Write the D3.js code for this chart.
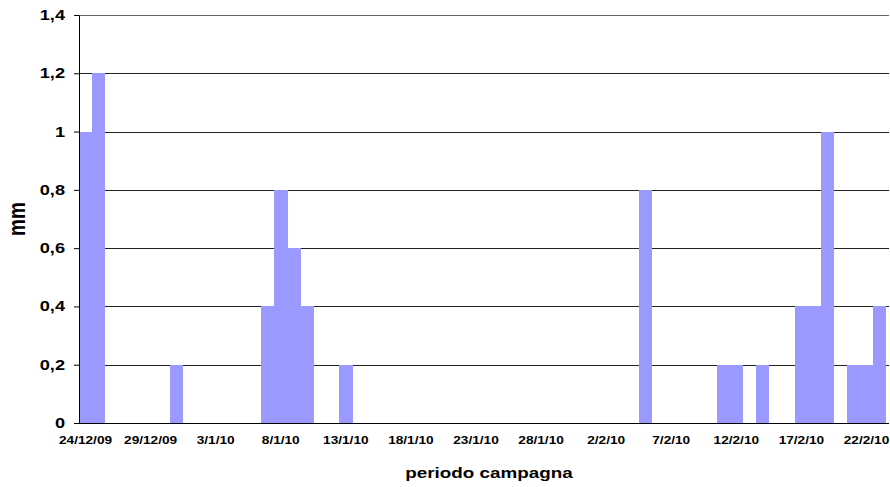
<!DOCTYPE html>
<html>
<head>
<meta charset="utf-8">
<script src="https://cdn.jsdelivr.net/npm/d3@7"></script>
<style>
  body { margin: 0; background: #fff; }
  #chart { width: 890px; height: 487px; }
  text { font-family: "Liberation Sans", Arial, sans-serif; font-weight: bold; fill: #000; }
</style>
</head>
<body>
<div id="chart"></div>
<script>
// daily rainfall (mm), 24/12/09 .. 23/2/10
const rain = [
    1.0, 1.2, 0, 0, 0, 0, 0, 0.2, 0, 0,
    0, 0, 0, 0, 0.4, 0.8, 0.6, 0.4, 0, 0,
    0.2, 0, 0, 0, 0, 0, 0, 0, 0, 0,
    0, 0, 0, 0, 0, 0, 0, 0, 0, 0,
    0, 0, 0, 0.8, 0, 0, 0, 0, 0, 0.2,
    0.2, 0, 0.2, 0, 0, 0.4, 0.4, 1.0, 0, 0.2,
    0.2, 0.4
];
const days = d3.timeDay.range(new Date(2009, 11, 24), new Date(2010, 1, 24));
const dayLabel = d3.timeFormat("%-d/%-m/%y");

const xTickLabels = ["24/12/09", "29/12/09", "3/1/10", "8/1/10", "13/1/10", "18/1/10", "23/1/10",
                     "28/1/10", "2/2/10", "7/2/10", "12/2/10", "17/2/10", "22/2/10"];
const yTicks = [0, 0.2, 0.4, 0.6, 0.8, 1, 1.2, 1.4];
const yTickLabels = ["0", "0,2", "0,4", "0,6", "0,8", "1", "1,2", "1,4"];

const data = days.map((d, i) => ({ day: dayLabel(d), value: rain[i] }));

// the original picture is stretched horizontally
const K = 1.3;
function stretch(sel) {
    sel.attr("transform", function() {
        const x = +d3.select(this).attr("x") || 0;
        return `translate(${x},0) scale(${K},1) translate(${-x},0)`;
    });
}

const width = 890, height = 487;
const margin = { top: 15, right: 4, bottom: 64, left: 79 };
const chartWidth = width - margin.left - margin.right;
const chartHeight = height - margin.top - margin.bottom;

const svg = d3.select("#chart").append("svg")
    .attr("width", width)
    .attr("height", height);

const g = svg.append("g")
    .attr("transform", `translate(${margin.left},${margin.top})`);

const xScale = d3.scaleBand()
    .domain(data.map(d => d.day))
    .range([0, chartWidth])
    .padding(0);

const yScale = d3.scaleLinear()
    .domain([0, 1.4])
    .range([chartHeight, 0]);

// grid lines
g.append("g")
    .selectAll("line")
    .data(yTicks.slice(1))
    .enter()
    .append("line")
    .attr("x1", 0)
    .attr("x2", chartWidth + 3)
    .attr("y1", d => Math.round(yScale(d)) + 0.5)
    .attr("y2", d => Math.round(yScale(d)) + 0.5)
    .attr("stroke", d => d === 1.4 ? "#666" : "#222")
    .attr("stroke-width", 1);

// bars
g.append("g")
    .selectAll("rect")
    .data(data.filter(d => d.value > 0))
    .enter()
    .append("rect")
    .attr("x", d => xScale(d.day))
    .attr("y", d => yScale(d.value))
    .attr("width", xScale.bandwidth() + 0.3)
    .attr("height", d => chartHeight - yScale(d.value))
    .attr("fill", "#9999ff")
    .attr("shape-rendering", "crispEdges");

// y axis
const yAxis = g.append("g")
    .call(d3.axisLeft(yScale)
        .tickValues(yTicks)
        .tickFormat((d, i) => yTickLabels[i])
        .tickSize(5)
        .tickPadding(9)
        .tickSizeOuter(0));
yAxis.select(".domain").attr("stroke", "#000");
yAxis.selectAll("line").attr("stroke", "#000");
yAxis.selectAll("text")
    .style("font-size", "14px")
    .call(stretch);

// x axis
const xAxis = g.append("g")
    .attr("transform", `translate(0,${chartHeight})`)
    .call(d3.axisBottom(xScale)
        .tickValues(data.map(d => d.day).filter(d => xTickLabels.includes(d)))
        .tickSize(0)
        .tickPadding(14)
        .tickSizeOuter(0));
xAxis.select(".domain").attr("stroke", "#000").attr("d", `M0,0.5H${chartWidth + 3}`);
xAxis.selectAll("text")
    .style("font-size", "10.5px")
    .call(stretch);
svg.selectAll(".tick text").attr("font-family", null);

// axis titles
svg.append("text")
    .attr("transform", `translate(25,${margin.top + chartHeight / 2}) scale(${K},1) rotate(-90)`)
    .attr("text-anchor", "middle")
    .style("font-size", "19px")
    .text("mm");

svg.append("text")
    .attr("x", 489)
    .attr("y", 478)
    .attr("text-anchor", "middle")
    .style("font-size", "14.5px")
    .text("periodo campagna")
    .call(stretch);
</script>
</body>
</html>
